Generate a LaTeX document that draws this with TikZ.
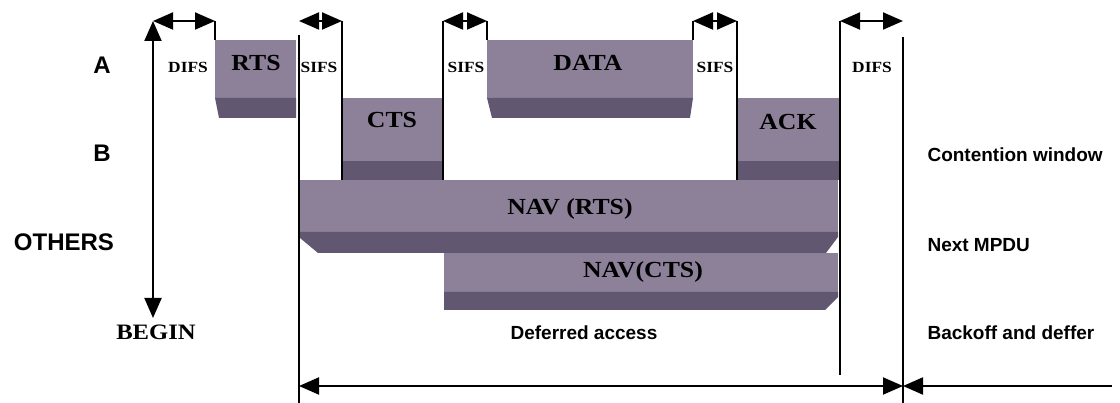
\documentclass[tikz,border=0pt]{standalone}
\usepackage{fontspec}
\setmainfont{Liberation Serif}
\newfontfamily\boxfont[FakeStretch=1.12]{Liberation Serif}
\newfontfamily\sidefont{Liberation Sans}
\usetikzlibrary{arrows.meta}

\definecolor{slabtop}{RGB}{141,129,153}
\definecolor{slabbot}{RGB}{98,87,112}

\begin{document}
\begin{tikzpicture}[x=1pt,y=-1pt,
  top/.style={fill=slabtop},
  bottom/.style={fill=slabbot},
  bar/.style={line width=2pt},
  gap/.style={bar,{Triangle[length=20pt,width=17pt]}-{Triangle[length=20pt,width=17pt]}},
  small/.style={font=\boxfont\bfseries\fontsize{15.5}{18}\selectfont},
  big/.style={font=\boxfont\bfseries\fontsize{23}{26}\selectfont},
  who/.style={font=\sidefont\bfseries\fontsize{24}{28}\selectfont},
  side/.style={font=\sidefont\bfseries\fontsize{19}{22}\selectfont,anchor=west}]
  \useasboundingbox (0,0) rectangle (1120,403);

  % slabs
  \fill[top] (215,40) rectangle (296,98);
  \fill[bottom] (215,98) -- (296,98) -- (296,118) -- (219,118) -- cycle;
  \fill[top] (487,40) rectangle (693,98);
  \fill[bottom] (487,98) -- (693,98) -- (690,118) -- (492,118) -- cycle;
  \fill[top] (342,98) rectangle (443,161);
  \fill[bottom] (342,161) rectangle (443,180);
  \fill[top] (737,98) rectangle (839,161);
  \fill[bottom] (737,161) rectangle (839,180);
  \fill[top] (300,180) rectangle (838,232);
  \fill[bottom] (300,232) -- (838,232) -- (838,237) -- (826,253) -- (318,253) -- (300,238) -- cycle;
  \fill[top] (444,253) rectangle (838,292);
  \fill[bottom] (444,292) -- (838,292) -- (838,297) -- (825,310) -- (444,310) -- cycle;

  % time marks
  \coordinate (a0) at (153,21);
  \coordinate (a1) at (215,21);
  \coordinate (a2) at (299,21);
  \coordinate (a3) at (342,21);
  \coordinate (a4) at (443,21);
  \coordinate (a5) at (487,21);
  \coordinate (a6) at (693,21);
  \coordinate (a7) at (737,21);
  \coordinate (a8) at (840,21);
  \coordinate (a9) at (903,21);
  \coordinate (end) at (153,318);
  \coordinate (b0) at (299,386);
  \coordinate (b1) at (903,386);
  \coordinate (b2) at (1112,386);

  \draw[bar] (a1) -- (215,40);
  \draw[bar] (299,35) -- (299,403);
  \draw[bar] (a3) -- (342,180);
  \draw[bar] (a4) -- (443,180);
  \draw[bar] (a5) -- (487,40);
  \draw[bar] (a6) -- (693,40);
  \draw[bar] (a7) -- (737,180);
  \draw[bar] (a8) -- (840,375);
  \draw[bar] (903,37) -- (903,403);

  \draw[gap] (end) -- (a0);
  \draw[gap] (a0) -- (a1);
  \draw[gap] (a2) -- (a3);
  \draw[gap] (a4) -- (a5);
  \draw[gap] (a6) -- (a7);
  \draw[gap] (a8) -- (a9);
  \draw[gap] (b0) -- (b1);
  \draw[bar,-{Triangle[length=20pt,width=17pt]}] (b2) -- (b1);

  % labels
  \node[small] (difsa) at (188,67) {DIFS};
  \node[big] (rts) at (256,63) {RTS};
  \node[small] (sifsa) at (319,67) {SIFS};
  \node[small] (sifsb) at (466,67) {SIFS};
  \node[big] (data) at (588,63) {DATA};
  \node[small] (sifsc) at (715,67) {SIFS};
  \node[small] (difsb) at (872,67) {DIFS};
  \node[big] (cts) at (392,120) {CTS};
  \node[big] (ack) at (788,122) {ACK};
  \node[big] (navrts) at (570,209) {NAV (RTS)};
  \node[big] (navcts) at (643,272) {NAV(CTS)};

  \node[who] (sta) at (102,65) {A};
  \node[who] (stb) at (102,153) {B};
  \node[who] (others) at (64,242) {OTHERS};
  \node[font=\boxfont\bfseries\fontsize{22}{26}\selectfont] (begin) at (156,332) {BEGIN};
  \node[font=\sidefont\bfseries\fontsize{19}{22}\selectfont] (defer) at (584,333) {Deferred access};

  \node[side] (cw) at (924,155) {Contention window};
  \node[side] (mpdu) at (924,245) {Next MPDU};
  \node[side] (backoff) at (924,333) {Backoff and deffer};
\end{tikzpicture}
\end{document}
